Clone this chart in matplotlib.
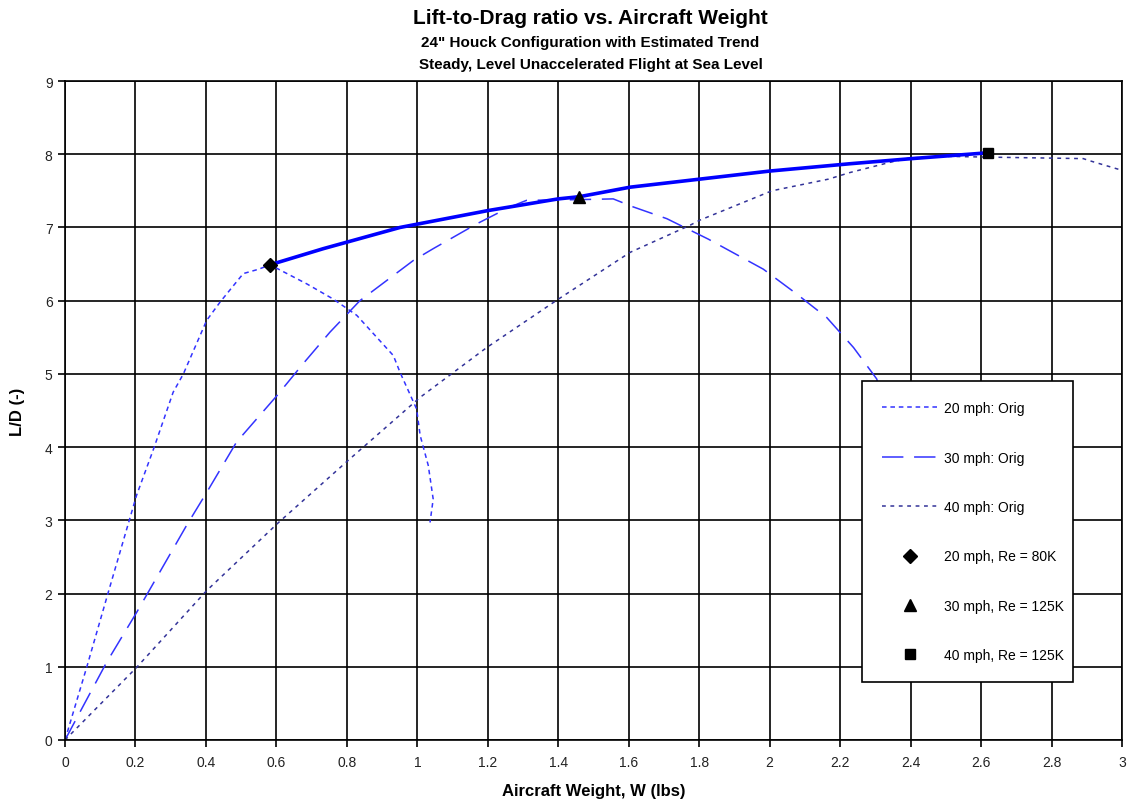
import matplotlib.pyplot as plt

plt.rcParams['font.family'] = ['Liberation Sans', 'DejaVu Sans']

# 20 mph original curve
w20 = [0, 0.062, 0.123, 0.203, 0.251, 0.307, 0.336, 0.402, 0.44, 0.506, 0.55, 0.582,
       0.686, 0.762, 0.828, 0.932, 0.951, 0.998, 1.008, 1.031, 1.045, 1.036]
ld20 = [0, 1.0, 2.02, 3.34, 3.97, 4.75, 5.0, 5.73, 5.98, 6.37, 6.43, 6.49,
        6.23, 6.02, 5.80, 5.25, 5.02, 4.52, 4.16, 3.75, 3.29, 2.97]

# 30 mph original curve
w30 = [0, 0.118, 0.203, 0.345, 0.402, 0.487, 0.601, 0.676, 0.752, 0.837, 0.989, 1.045,
       1.169, 1.263, 1.31, 1.46, 1.556, 1.613, 1.708, 1.826, 1.982, 2.077, 2.162, 2.238,
       2.304, 2.33, 2.35]
ld30 = [0, 1.06, 1.74, 2.93, 3.38, 4.07, 4.70, 5.14, 5.57, 6.0, 6.55, 6.71,
        7.05, 7.28, 7.37, 7.38, 7.39, 7.28, 7.12, 6.84, 6.43, 6.09, 5.77, 5.36,
        4.93, 4.4, 3.8]

# 40 mph original curve
w40 = [0, 0.203, 0.402, 0.606, 0.804, 1.008, 1.197, 1.4, 1.604, 1.774, 1.802, 2.006,
       2.167, 2.228, 2.342, 2.399, 2.512, 2.626, 2.89, 2.909, 3.0]
ld40 = [0, 0.99, 2.04, 2.97, 3.82, 4.68, 5.36, 6.02, 6.66, 7.03, 7.1, 7.50,
        7.66, 7.75, 7.89, 7.95, 7.97, 7.96, 7.94, 7.91, 7.78]

# estimated trend through the test points
w_trend = [0.582, 0.733, 0.951, 1.2, 1.4, 1.46, 1.604, 1.802, 2.0, 2.228, 2.403, 2.62]
ld_trend = [6.49, 6.71, 7.0, 7.23, 7.39, 7.42, 7.55, 7.66, 7.77, 7.87, 7.94, 8.02]

# test points
w_pts = [0.582, 1.46, 2.62]
ld_pts = [6.49, 7.42, 8.02]
pt_labels = ['20 mph, Re = 80K', '30 mph, Re = 125K', '40 mph, Re = 125K']
pt_markers = ['D', '^', 's']
pt_sizes = [7, 8, 7]

fig = plt.figure(figsize=(11.27, 8.03), dpi=100)
ax = fig.add_axes([65 / 1127, 62 / 803, 1057 / 1127, 659 / 803])

ax.plot(w20, ld20, color='#3333ff', lw=1.1, dashes=(3, 2.5), label='20 mph: Orig')
ax.plot(w30, ld30, color='#3333ff', lw=1.1, dashes=(14, 7), label='30 mph: Orig')
ax.plot(w40, ld40, color='#333399', lw=1.1, dashes=(2.5, 3), label='40 mph: Orig')
ax.plot(w_trend, ld_trend, color='#0000ff', lw=2.6, solid_capstyle='butt')

for x, y, lab, m, s in zip(w_pts, ld_pts, pt_labels, pt_markers, pt_sizes):
    ax.plot([x], [y], ls='none', marker=m, color='black', ms=s, label=lab, zorder=5)

ax.set_xlim(0, 3)
ax.set_ylim(0, 9)
ax.set_xticks([i * 0.2 for i in range(16)])
ax.set_xticklabels(['0', '0.2', '0.4', '0.6', '0.8', '1', '1.2', '1.4', '1.6', '1.8',
                    '2', '2.2', '2.4', '2.6', '2.8', '3'])
ax.set_yticks(range(10))
ax.grid(color='black', lw=1.2)
ax.set_axisbelow(True)
for sp in ax.spines.values():
    sp.set_color('black')
    sp.set_linewidth(1.2)
ax.tick_params(direction='out', length=5, width=1.2, labelsize=10, labelcolor='#222222')
ax.tick_params(axis='x', pad=6)
ax.tick_params(axis='y', pad=4)

ax.set_xlabel('Aircraft Weight, W (lbs)', fontsize=12, fontweight='bold', labelpad=10)
ax.set_ylabel('L/D (-)', fontsize=12, fontweight='bold', labelpad=14)

fig.text(0.524, 0.977, 'Lift-to-Drag ratio vs. Aircraft Weight', ha='center', va='center',
         fontsize=15, fontweight='bold')
fig.text(0.524, 0.946, '24" Houck Configuration with Estimated Trend', ha='center', va='center',
         fontsize=11, fontweight='bold')
fig.text(0.524, 0.919, 'Steady, Level Unaccelerated Flight at Sea Level', ha='center', va='center',
         fontsize=11, fontweight='bold')

leg = ax.legend(loc='upper left', bbox_to_anchor=(0.754, 0.5348, 0.1996, 0.01), mode='expand',
                borderaxespad=0, fontsize=10, labelspacing=2.55, handlelength=4.0,
                handletextpad=0.45, borderpad=1.45, fancybox=False, framealpha=1,
                edgecolor='black')
leg.get_frame().set_linewidth(1.2)

fig.savefig('out.png', dpi=100)
